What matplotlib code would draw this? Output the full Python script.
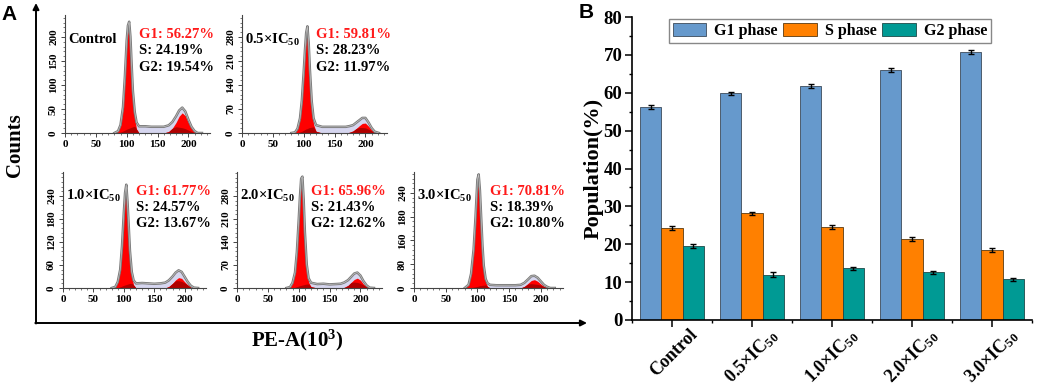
import numpy as np
import matplotlib
matplotlib.use("Agg")
import matplotlib.pyplot as plt
from matplotlib.ticker import MultipleLocator, FixedLocator, FixedFormatter
from matplotlib.transforms import ScaledTranslation

plt.rcParams['font.family'] = ['Liberation Serif', 'DejaVu Serif']
plt.rcParams['font.weight'] = 'bold'
plt.rcParams['axes.labelweight'] = 'bold'
plt.rcParams['mathtext.default'] = 'regular'

W, H = 1045, 385

# ---- panel B: cell-cycle distribution (%) ----
groups = ['Control', '0.5×IC$_{50}$', '1.0×IC$_{50}$', '2.0×IC$_{50}$', '3.0×IC$_{50}$']
g1_pct = [56.27, 59.81, 61.77, 65.96, 70.81]
g1_err = [0.5, 0.5, 0.5, 0.5, 0.6]
s_pct = [24.19, 28.23, 24.57, 21.43, 18.39]
s_err = [0.5, 0.4, 0.5, 0.6, 0.5]
g2_pct = [19.54, 11.97, 13.67, 12.62, 10.80]
g2_err = [0.6, 0.7, 0.4, 0.4, 0.4]

# ---- panel A: flow histograms (PE-A in 10^3, counts) ----
hist_x = [80, 86, 90, 94, 97, 100, 102, 104, 106, 108, 110, 113, 116, 120, 130,
          140, 150, 160, 168, 174, 180, 185, 190, 195, 200, 205, 210, 215, 222]

ctrl_g1 = [0, 4, 15, 50, 110, 185, 215, 222, 190, 130, 75, 30, 8, 0, 0,
           0, 0, 0, 0, 0, 0, 0, 0, 0, 0, 0, 0, 0, 0]
ctrl_s = [0, 0, 2, 4, 6, 8, 9, 10, 11, 12, 13, 14, 14, 14, 14,
          13, 13, 13, 13, 13, 13, 12, 11, 9, 6, 3, 1, 0, 0]
ctrl_g2 = [0, 0, 0, 0, 0, 0, 0, 0, 0, 0, 0, 0, 0, 0, 0,
           0, 0, 0, 3, 10, 22, 35, 42, 36, 22, 10, 3, 0, 0]

ic05_g1 = [0, 2, 12, 40, 90, 170, 230, 280, 298, 250, 170, 75, 25, 5, 0,
           0, 0, 0, 0, 0, 0, 0, 0, 0, 0, 0, 0, 0, 0]
ic05_s = [0, 0, 1, 3, 5, 8, 10, 12, 13, 15, 16, 17, 18, 18, 18,
          18, 18, 18, 18, 18, 17, 17, 16, 16, 15, 11, 6, 2, 0]
ic05_g2 = [0, 0, 0, 0, 0, 0, 0, 0, 0, 0, 0, 0, 0, 0, 0,
           0, 0, 0, 0, 2, 6, 13, 21, 28, 29, 20, 9, 2, 0]

ic10_g1 = [0, 3, 15, 45, 105, 190, 240, 260, 215, 150, 85, 30, 8, 0, 0,
           0, 0, 0, 0, 0, 0, 0, 0, 0, 0, 0, 0, 0, 0]
ic10_s = [0, 0, 1, 3, 5, 7, 8, 9, 10, 11, 12, 12, 12, 12, 13,
          12, 11, 12, 14, 16, 18, 19, 19, 17, 13, 8, 4, 1, 0]
ic10_g2 = [0, 0, 0, 0, 0, 0, 0, 0, 0, 0, 0, 0, 0, 0, 0,
           0, 0, 0, 0, 4, 12, 21, 27, 25, 16, 8, 2, 0, 0]

ic20_g1 = [0, 3, 15, 45, 105, 200, 270, 325, 330, 260, 160, 60, 18, 4, 0,
           0, 0, 0, 0, 0, 0, 0, 0, 0, 0, 0, 0, 0, 0]
ic20_s = [0, 0, 1, 2, 4, 6, 7, 8, 9, 10, 11, 12, 12, 12, 12,
          13, 11, 12, 13, 15, 16, 17, 18, 17, 14, 9, 4, 1, 0]
ic20_g2 = [0, 0, 0, 0, 0, 0, 0, 0, 0, 0, 0, 0, 0, 0, 0,
           0, 0, 0, 0, 2, 8, 17, 26, 30, 24, 12, 4, 0, 0]

ic30_g1 = [0, 8, 35, 95, 175, 270, 282, 240, 170, 100, 50, 15, 4, 0, 0,
           0, 0, 0, 0, 0, 0, 0, 0, 0, 0, 0, 0, 0, 0]
ic30_s = [0, 0, 1, 2, 3, 4, 5, 6, 6, 7, 7, 8, 8, 8, 7,
          7, 7, 7, 8, 9, 10, 11, 10, 9, 7, 4, 2, 0, 0]
ic30_g2 = [0, 0, 0, 0, 0, 0, 0, 0, 0, 0, 0, 0, 0, 0, 0,
           0, 0, 0, 0, 4, 12, 19, 21, 17, 10, 4, 1, 0, 0]

hist_titles = ['Control', '0.5×IC$_{50}$', '1.0×IC$_{50}$', '2.0×IC$_{50}$', '3.0×IC$_{50}$']
hist_pct = [('56.27', '24.19', '19.54'), ('59.81', '28.23', '11.97'),
            ('61.77', '24.57', '13.67'), ('65.96', '21.43', '12.62'),
            ('70.81', '18.39', '10.80')]
hist_ytick_labels = [['0', '50', '100', '150', '200'],
                     ['0', '70', '140', '210', '280'],
                     ['0', '60', '120', '180', '240'],
                     ['0', '70', '140', '210', '280'],
                     ['0', '80', '160', '180', '240']]
hist_ystep = [50, 70, 60, 70, 60]


fig = plt.figure(figsize=(W / 100, H / 100), dpi=100)


def px_axes(l, t, r, b):
    return fig.add_axes([l / W, 1 - b / H, (r - l) / W, (b - t) / H])


# overlay in pixel coordinates for the frame of panel A and loose labels
ov = fig.add_axes([0, 0, 1, 1])
ov.set_xlim(0, W)
ov.set_ylim(H, 0)
ov.axis('off')
arrow = dict(arrowstyle='-|>', lw=1.4, color='black', mutation_scale=9, shrinkA=0, shrinkB=0)
ov.annotate('', xy=(36, 3), xytext=(36, 323.5), arrowprops=arrow)
ov.annotate('', xy=(587, 323), xytext=(35.3, 323), arrowprops=arrow)
ov.text(9, 14, 'A', family='Liberation Sans', fontsize=15, fontweight='bold', ha='center', va='center')
ov.text(586, 12, 'B', family='Liberation Sans', fontsize=15, fontweight='bold', ha='center', va='center')
ov.text(15, 145, 'Counts', fontsize=15, rotation=90, ha='center', va='center')
ov.text(297, 340, 'PE-A(10$^3$)', fontsize=15, ha='center', va='center')

# (left, top, right, bottom) in pixels, y upper limit
hist_boxes = [(65, 15, 210, 133, 246), (242, 15, 387, 133, 344),
              (63, 172, 206, 288, 302), (237, 172, 382, 288, 353),
              (414, 172, 563, 288, 293)]
hist_series = [(ctrl_g1, ctrl_s, ctrl_g2), (ic05_g1, ic05_s, ic05_g2),
               (ic10_g1, ic10_s, ic10_g2), (ic20_g1, ic20_s, ic20_g2),
               (ic30_g1, ic30_s, ic30_g2)]

for box, ser, title, pct, ylabs, step in zip(hist_boxes, hist_series, hist_titles,
                                              hist_pct, hist_ytick_labels, hist_ystep):
    l, t, r, b, ytop = box
    ax = px_axes(l, t, r, b)
    g1, s, g2 = (np.array(v, dtype=float) for v in ser)
    total = g1 + s + g2
    ax.fill_between(hist_x, 0, total, color='#d6d6ef', lw=0)
    ax.fill_between(hist_x, 0, g1, color='#ff0000', lw=0)
    ax.fill_between(hist_x, 0, g2, color='#ff0000', lw=0)
    ax.fill_between(hist_x, 0, np.minimum(s, g1 + g2), color='#b00000', lw=0)
    ax.plot(hist_x, total, color='#7a7a7a', lw=1.8)
    ax.plot(hist_x, total, color='#c4c4c4', lw=0.5)
    ax.set_xlim(0, 235)
    ax.set_ylim(0, ytop)
    ax.patch.set_alpha(0)
    for side in ('top', 'right'):
        ax.spines[side].set_visible(False)
    for side in ('left', 'bottom'):
        ax.spines[side].set_color('#444444')
        ax.spines[side].set_linewidth(0.8)
    ax.set_xticks([0, 50, 100, 150, 200])
    ax.xaxis.set_minor_locator(MultipleLocator(10))
    ax.yaxis.set_major_locator(FixedLocator([k * step for k in range(5)]))
    ax.yaxis.set_major_formatter(FixedFormatter(ylabs))
    ax.yaxis.set_minor_locator(MultipleLocator(step / 5))
    ax.tick_params(which='major', length=3, width=0.7, color='#444444', labelsize=8, pad=2)
    ax.tick_params(which='minor', length=1.6, width=0.5, color='#444444')
    for lab in ax.get_yticklabels():
        lab.set_rotation(90)
        lab.set_va('center')
    ax.text(0.02, 0.79, title, transform=ax.transAxes, fontsize=10.5, ha='left', va='center')
    ax.text(0.51, 0.835, 'G1: %s%%' % pct[0], transform=ax.transAxes, fontsize=10.5,
            color='#ff1a1a', ha='left', va='center')
    ax.text(0.51, 0.695, 'S: %s%%' % pct[1], transform=ax.transAxes, fontsize=10.5, ha='left', va='center')
    ax.text(0.51, 0.555, 'G2: %s%%' % pct[2], transform=ax.transAxes, fontsize=10.5, ha='left', va='center')

# ---- panel B ----
axb = px_axes(632, 17, 1032, 320)
x = np.arange(len(groups))
bw = 0.265
ekw = dict(elinewidth=1.0, capthick=1.0, ecolor='black')
axb.bar(x - bw, g1_pct, bw, yerr=g1_err, color='#6699cc', edgecolor='#3c4a5a', lw=0.6,
        capsize=2.5, error_kw=ekw, label='G1 phase')
axb.bar(x, s_pct, bw, yerr=s_err, color='#ff8000', edgecolor='#5a3a10', lw=0.6,
        capsize=2.5, error_kw=ekw, label='S phase')
axb.bar(x + bw, g2_pct, bw, yerr=g2_err, color='#009a94', edgecolor='#1e4a48', lw=0.6,
        capsize=2.5, error_kw=ekw, label='G2 phase')
axb.set_xlim(-0.5, 4.5)
axb.set_ylim(0, 80)
axb.spines[['top', 'right']].set_visible(False)
axb.spines[['left', 'bottom']].set_linewidth(1.2)
axb.set_yticks(range(0, 81, 10))
axb.yaxis.set_minor_locator(MultipleLocator(5))
axb.set_xticks(x)
axb.set_xticks(np.arange(-0.5, 4.6, 1), minor=True)
axb.set_xticklabels(groups, rotation=45, ha='right', rotation_mode='anchor')
axb.tick_params(which='major', length=5, width=1.1, labelsize=13.5, pad=2)
axb.tick_params(which='minor', length=2.5, width=1.0)
axb.tick_params(axis='x', labelsize=13, pad=1)
shift = ScaledTranslation(0.17, 0.03, fig.dpi_scale_trans)
for lab in axb.get_xticklabels():
    lab.set_transform(lab.get_transform() + shift)
axb.set_ylabel('Population(%)', fontsize=16, fontweight='bold')
axb.yaxis.set_label_coords(-0.07, 0.5)
axb.legend(ncol=3, loc='upper center', bbox_to_anchor=(0.495, 0.995), frameon=True,
           fancybox=False, edgecolor='#888888', framealpha=1, fontsize=11.5,
           handlelength=2.1, handleheight=0.95, columnspacing=0.35, handletextpad=0.5,
           borderpad=0.25, borderaxespad=0)

fig.savefig('out.png', dpi=100)
